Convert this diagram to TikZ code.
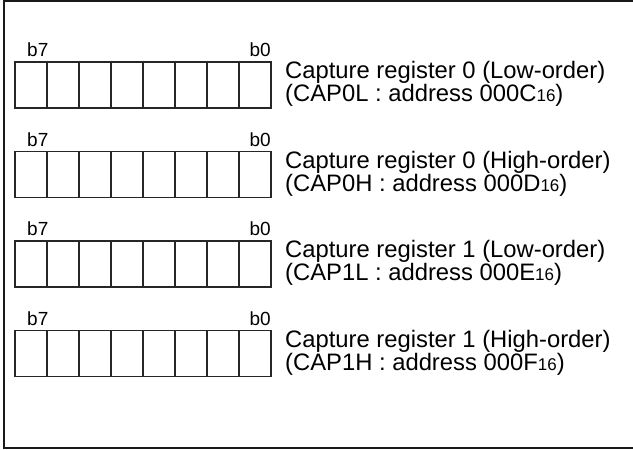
\documentclass[tikz,border=0pt]{standalone}
\usepackage{fontspec}
\setmainfont{Liberation Sans}
\usetikzlibrary{positioning}
\newcommand{\hexsub}[1]{{\fontsize{17}{17}\selectfont #1}}

\begin{document}
\begin{tikzpicture}[
    x=1pt,y=-1pt,
    frame/.style={line width=2pt,black!90},
    regbox/.style={draw=black!85,line width=1.2pt,minimum width=256pt,minimum height=46pt,inner sep=0pt,outer sep=0pt},
    cell/.style={draw=black!85,line width=1.2pt},
    bitlab/.style={font=\fontsize{19}{19}\selectfont,inner sep=0pt},
    desc/.style={font=\fontsize{23.8}{23}\selectfont,align=left,inner sep=0pt}]
\useasboundingbox (0,0) rectangle (633,450);
% ===== outer frame (cut off at the right) =====
\draw[frame] (640,1) -- (4,1) -- (4,448) -- (640,448);
% ===== the four capture registers =====
\foreach \i/\yc/\txt in {%
    0/85/{Capture register 0 (Low-order)\\(CAP0L : address 000C\hexsub{16})},
    1/174.5/{Capture register 0 (High-order)\\(CAP0H : address 000D\hexsub{16})},
    2/264/{Capture register 1 (Low-order)\\(CAP1L : address 000E\hexsub{16})},
    3/353.5/{Capture register 1 (High-order)\\(CAP1H : address 000F\hexsub{16})}} {
  \node[regbox] (reg\i) at (143,\yc) {};
  \foreach \k in {1,...,7}
    \draw[cell] ([xshift=\k*32pt]reg\i.north west) -- ([xshift=\k*32pt]reg\i.south west);
  \node[bitlab,anchor=south west] (hi\i) at ([xshift=12pt,yshift=5pt]reg\i.north west) {b7};
  \node[bitlab,anchor=south east] (lo\i) at ([yshift=5pt]reg\i.north east) {b0};
  \node[desc,anchor=west] (txt\i) at ([xshift=14pt,yshift=1pt]reg\i.east) {\txt};
}
\end{tikzpicture}
\end{document}
